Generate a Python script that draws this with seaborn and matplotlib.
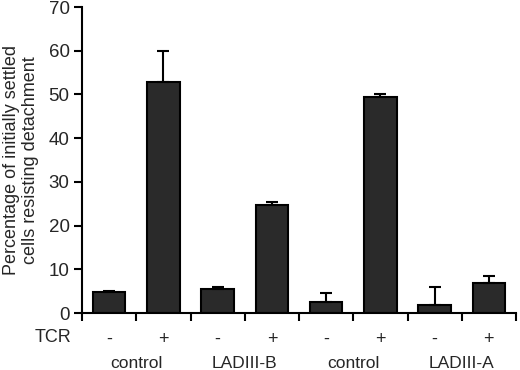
import matplotlib
matplotlib.use("Agg")
import matplotlib.pyplot as plt
import seaborn as sns
import pandas as pd
import numpy as np
from matplotlib.transforms import blended_transform_factory

sns.set_style("ticks")
plt.rcParams['font.family'] = ['Liberation Sans', 'DejaVu Sans']

conditions = ["c1-", "c1+", "B-", "B+", "c2-", "c2+", "A-", "A+"]
tcr_labels = ["-", "+", "-", "+", "-", "+", "-", "+"]
group_labels = ["control", "LADIII-B", "control", "LADIII-A"]
values = [4.7, 52.9, 5.5, 24.7, 2.6, 49.3, 1.8, 6.75]
errors = [0.4, 7.0, 0.5, 0.7, 2.0, 0.7, 4.2, 1.75]

df = pd.DataFrame({"cond": conditions, "value": values})

fig = plt.figure(figsize=(5.2, 3.7), dpi=100)
ax = fig.add_axes([82/520, 57/370, 434/520, 306/370])

sns.barplot(data=df, x="cond", y="value", order=conditions, color="#2a2a2a",
            saturation=1, width=0.6, edgecolor="black", linewidth=1.5,
            errorbar=None, ax=ax)
x = np.arange(len(conditions))
ax.errorbar(x, values, yerr=[np.zeros(len(errors)), errors], fmt="none",
            ecolor="black", elinewidth=1.5, capsize=4, capthick=1.5)

ax.set_xlim(-0.5, len(conditions) - 0.5)
ax.set_ylim(0, 70)
ax.set_yticks(range(0, 71, 10))
ax.set_xticks(x)
ax.set_xticklabels(tcr_labels, fontsize=13)
ax.set_xticks(np.arange(-0.5, len(conditions), 1.0), minor=True)
ax.tick_params(axis="x", which="major", length=0, pad=13)
ax.tick_params(axis="x", which="minor", length=6, width=1.5, color="black")
ax.tick_params(axis="y", length=6, width=1.5, labelsize=13.5, color="black", pad=3)
ax.set_xlabel("")
ax.set_ylabel("Percentage of initially settled\ncells resisting detachment",
              fontsize=13, labelpad=7, linespacing=1.15)
for s in ["top", "right"]:
    ax.spines[s].set_visible(False)
for s in ["left", "bottom"]:
    ax.spines[s].set_linewidth(1.5)
    ax.spines[s].set_color("black")

trans = blended_transform_factory(ax.transData, fig.transFigure)
for i, g in enumerate(group_labels):
    ax.text(2 * i + 0.5, 1 - 363/370, g, transform=trans, ha="center",
            va="center", fontsize=12.5)
fig.text(35/520, 1 - 338/370, "TCR", ha="left", va="center", fontsize=13)

fig.savefig("out.png", dpi=100)
